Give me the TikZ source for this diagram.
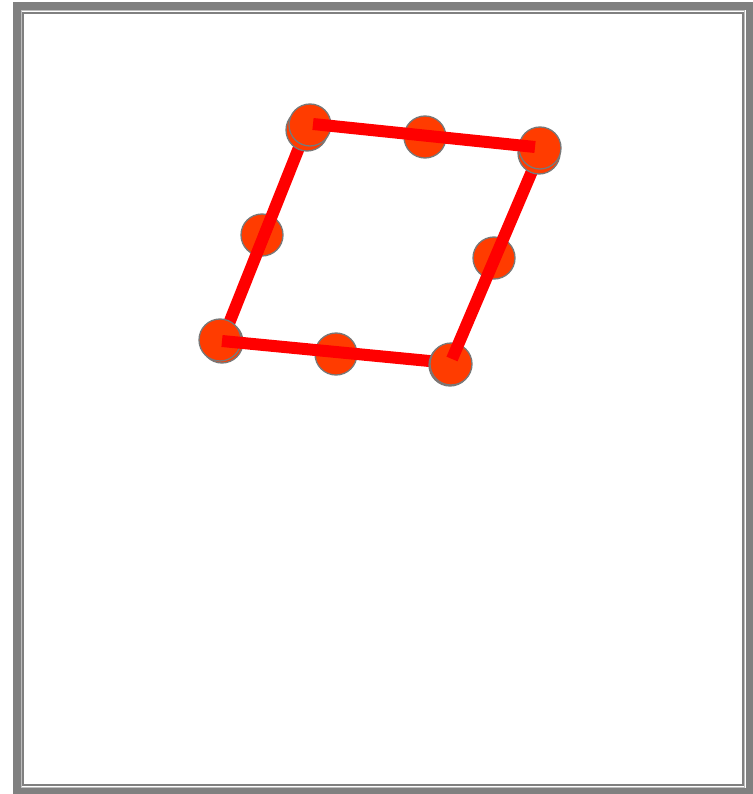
\documentclass[tikz,border=0pt]{standalone}
\definecolor{framegray}{RGB}{128,128,128}
\definecolor{lightframe}{RGB}{190,190,190}
\definecolor{dotfill}{RGB}{255,60,0}
\definecolor{dotedge}{RGB}{120,120,120}
\tikzset{
  dot/.style={circle, draw=dotedge, line width=1.3pt, fill=dotfill, minimum size=42pt, inner sep=0pt},
  edgeline/.style={draw=red, line width=12pt},
}
\begin{document}
\begin{tikzpicture}[x=1pt,y=-1pt]
\useasboundingbox (0,0) rectangle (752,794);
% frame
\draw[framegray, line width=8pt] (17,6) rectangle (750,792);
\draw[lightframe, line width=1pt] (21.5,11) rectangle (744.5,787);
\draw[framegray, line width=2pt] (23,13.5) rectangle (742.5,785);
% line end points
\coordinate (tlA) at (308,125);
\coordinate (blA) at (222,341);
\coordinate (tlB) at (313,124);
\coordinate (trB) at (535,147);
\coordinate (trC) at (541,150);
\coordinate (brC) at (452,359);
\coordinate (blD) at (222,341);
\coordinate (brD) at (450,363);
% middle dots
\node[dot] (ml) at (262,235) {};
\node[dot] (mt) at (425,137) {};
\node[dot] (mr) at (494,258) {};
\node[dot] (mb) at (336,354) {};
% left side
\draw[edgeline] (blA) -- (tlA);
% top-left dot (double)
\node[dot] (tl2) at (307,130) {};
\node[dot] (tl) at (310,125) {};
% bottom-left dot (double)
\node[dot] (bl2) at (222,342) {};
\node[dot] (bl) at (220,340) {};
% bottom side
\draw[edgeline] (blD) -- (brD);
% bottom-right dot
\node[dot] (br2) at (450,365) {};
\node[dot] (br) at (451,364) {};
% right side
\draw[edgeline] (brC) -- (trC);
% top-right dot (double)
\node[dot] (tr2) at (539,153) {};
\node[dot] (tr) at (540,148) {};
% top side
\draw[edgeline] (tlB) -- (trB);
\end{tikzpicture}
\end{document}
